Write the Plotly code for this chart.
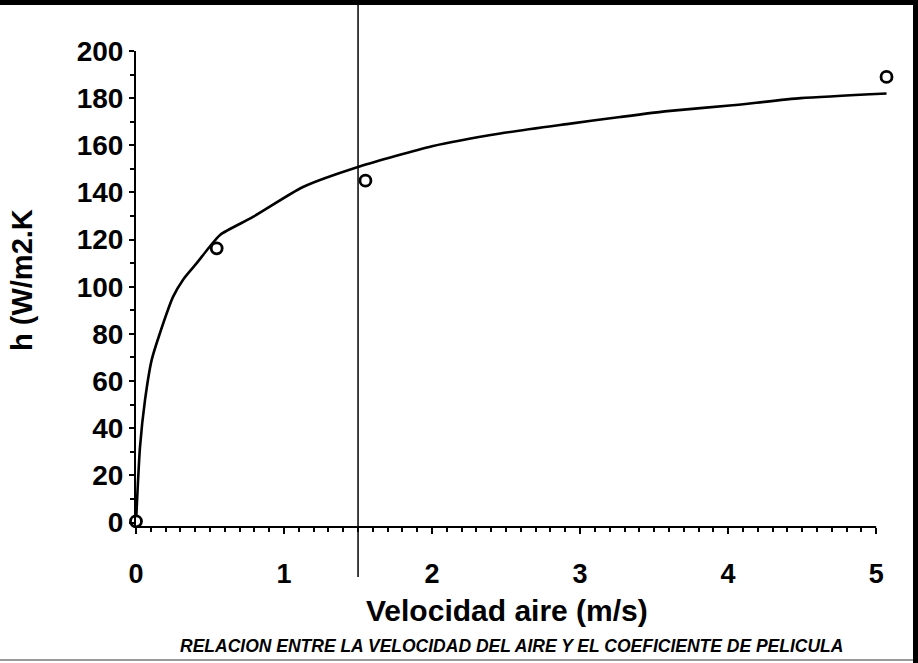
import plotly.graph_objects as go

# Measured points (open circles)
point_v = [0.0, 0.545, 1.55, 5.07]
point_h = [0.5, 116.3, 145, 189]

# Fitted curve
curve_v = [0.0, 0.027, 0.061, 0.106, 0.162, 0.25, 0.318, 0.41, 0.48, 0.568, 0.79, 1.128,
           1.51, 2.0, 2.46, 2.91, 3.27, 3.59, 4.03, 4.49, 5.07]
curve_h = [0.0, 32, 52, 69, 80.4, 95.7, 103, 110, 115.6, 122, 129.6, 142.3,
           151, 159.6, 165, 169, 172, 174.5, 177, 180, 182]

x_ticks = [0, 1, 2, 3, 4, 5]
y_ticks = [0, 20, 40, 60, 80, 100, 120, 140, 160, 180, 200]
marker_line_v = 1.5
x_max_range = 5.08
x_axis_end = 5

FONT = "Liberation Sans, Arial, sans-serif"

fig = go.Figure()
fig.add_trace(go.Scatter(x=curve_v, y=curve_h, mode="lines",
                         line=dict(color="black", width=2.6, shape="spline", smoothing=0.6),
                         hoverinfo="skip", showlegend=False, cliponaxis=False))
fig.add_trace(go.Scatter(x=point_v, y=point_h, mode="markers",
                         marker=dict(symbol="circle", size=11, color="white",
                                     line=dict(color="black", width=2.8)),
                         showlegend=False, cliponaxis=False))

# plot area in px: left 136, right ~888 (x=5 at 876), top 51, bottom 527
L, R, T, B = 136, 888, 51, 527
W, H = 918, 663
pw, ph = R - L, B - T

def px_x(p):
    return (p - L) / pw

def px_y(p):
    return (B - p) / ph

fig.update_layout(
    width=W, height=H,
    margin=dict(l=L, r=W - R, t=T, b=H - B),
    paper_bgcolor="white", plot_bgcolor="white",
    font=dict(family=FONT, color="black"),
    xaxis=dict(range=[0, x_max_range], tickvals=x_ticks, ticktext=[f"<b>{v}</b>" for v in x_ticks],
               showgrid=False, zeroline=False, showline=False,
               ticks="outside", ticklen=6, tickwidth=2, tickcolor="black",
               tickfont=dict(size=27, family=FONT, color="black"),
               ticklabelstandoff=17,
               minor=dict(dtick=0.1, ticks="outside", ticklen=4, tickwidth=1.5, tickcolor="black")),
    yaxis=dict(range=[-1.9, 200], tickvals=y_ticks, ticktext=[f"<b>{v}</b>" for v in y_ticks],
               showgrid=False, zeroline=False, showline=True, linecolor="black", linewidth=2,
               ticks="outside", ticklen=5, tickwidth=2, tickcolor="black",
               tickfont=dict(size=28, family=FONT, color="black"),
               minor=dict(dtick=10, ticks="outside", ticklen=4, tickwidth=1.5, tickcolor="black")),
)

shapes = [
    # x axis line (ends at x = 5)
    dict(type="line", xref="x", yref="paper", x0=0, x1=x_axis_end, y0=0, y1=0,
         line=dict(color="black", width=2)),
    # vertical reference line
    dict(type="line", xref="x", yref="paper", x0=marker_line_v, x1=marker_line_v,
         y0=px_y(577), y1=px_y(4), line=dict(color="black", width=1.5)),
    # top border
    dict(type="rect", xref="paper", yref="paper", x0=px_x(0), x1=px_x(W), y0=px_y(5), y1=px_y(0),
         fillcolor="black", line=dict(width=0)),
    # right border
    dict(type="rect", xref="paper", yref="paper", x0=px_x(913), x1=px_x(W), y0=px_y(H), y1=px_y(0),
         fillcolor="black", line=dict(width=0)),
    # bottom gray line
    dict(type="line", xref="paper", yref="paper", x0=px_x(0), x1=px_x(913), y0=px_y(660), y1=px_y(660),
         line=dict(color="#9a9a9a", width=2)),
]
fig.update_layout(shapes=shapes)

fig.add_annotation(text="<b>h (W/m2.K</b>", xref="paper", yref="paper",
                   x=px_x(22), y=px_y(280), showarrow=False, textangle=-90,
                   font=dict(size=29, family=FONT, color="black"),
                   xanchor="center", yanchor="middle")
fig.add_annotation(text="<b>Velocidad aire (m/s)</b>", xref="paper", yref="paper",
                   x=px_x(507), y=px_y(610), showarrow=False,
                   font=dict(size=30, family=FONT, color="black"),
                   xanchor="center", yanchor="middle")
fig.add_annotation(text="<b><i>RELACION ENTRE LA VELOCIDAD DEL AIRE Y EL COEFICIENTE DE PELICULA</i></b>",
                   xref="paper", yref="paper", x=px_x(511), y=px_y(646), showarrow=False,
                   font=dict(size=17.5, family=FONT, color="black"),
                   xanchor="center", yanchor="middle")

fig.write_html("out.html", config={"displayModeBar": False},
               post_script="document.body.style.margin='0';document.body.style.overflow='hidden';")
